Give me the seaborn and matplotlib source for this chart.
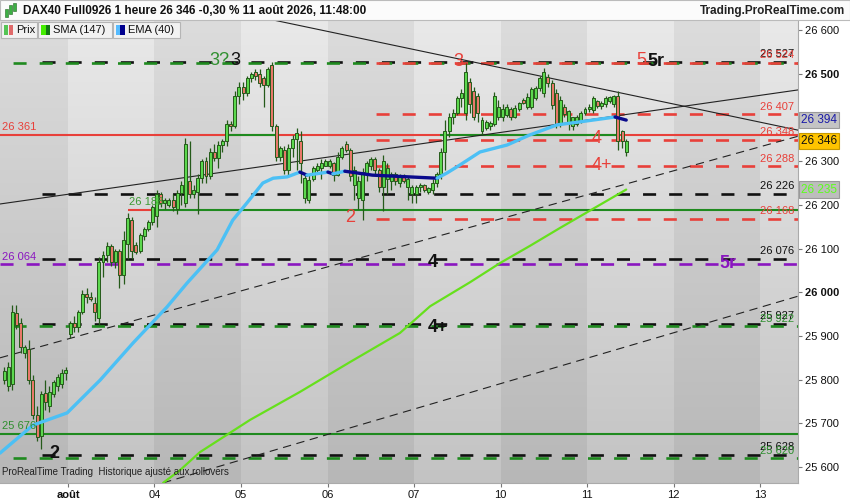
"""
DAX40 Full0926 - 1 heure - ProRealTime style
"""
import numpy as np
import pandas as pd
import matplotlib
matplotlib.use('Agg')
import matplotlib.pyplot as plt
from matplotlib.colors import LinearSegmentedColormap
from matplotlib.patches import Rectangle
import seaborn as sns

sns.set_theme(style='white')
plt.rcParams['font.family'] = ['Liberation Sans', 'DejaVu Sans']
plt.rcParams['lines.scale_dashes'] = False

# ============================================================
# données : bougies 1 heure (première bougie = 31/07, index -16)
# ============================================================
first_bar = -16
bar_open = [
    # 31/07
    25800, 25785, 25790, 25952, 25930, 25860, 25870, 25800, 25720, 25672, 25770, 25740, 25768, 25785, 25790, 25815,
    # 03/08
    25905, 25930, 25920, 25955, 25995, 25990, 25975, 25940, 26070, 26085, 26105, 26070, 26095, 26040, 26110, 26165, 26108, 26095, 26128, 26145, 26160,
    # 04/08
    26175, 26225, 26205, 26200, 26212, 26190, 26228, 26205, 26255, 26225, 26230, 26262, 26300, 26265, 26322, 26308, 26336, 26345, 26386, 26380, 26450,
    # 05/08
    26470, 26455, 26490, 26505, 26500, 26490, 26475, 26520, 26380, 26310, 26325, 26280, 26330, 26350, 26345, 26215, 26212, 26260, 26280, 26285, 26290,
    # 06/08
    26290, 26295, 26268, 26310, 26340, 26325, 26245, 26215, 26210, 26270, 26290, 26305, 26280, 26240, 26260, 26255, 26270, 26250, 26265, 26240, 26225,
    # 07/08
    26225, 26240, 26245, 26230, 26235, 26250, 26270, 26320, 26370, 26400, 26410, 26445, 26410, 26480, 26460, 26450, 26368, 26375, 26380, 26385, 26400,
    # 10/08
    26400, 26405, 26420, 26402, 26420, 26440, 26425, 26425, 26445, 26467, 26455, 26492, 26478, 26455, 26385, 26424, 26385, 26380, 26385, 26392, 26410,
    # 11/08
    26420, 26418, 26438, 26426, 26430, 26438, 26430, 26448, 26370, 26322,
]
bar_high = [
    25830, 25840, 25972, 25970, 25940, 25880, 25890, 25810, 25740, 25775, 25800, 25785, 25800, 25812, 25825, 25830,
    25935, 25945, 25960, 26005, 26010, 26000, 25990, 26080, 26095, 26115, 26110, 26100, 26100, 26140, 26182, 26172, 26115, 26135, 26150, 26165, 26200,
    26235, 26230, 26215, 26215, 26225, 26235, 26255, 26352, 26345, 26245, 26270, 26305, 26310, 26330, 26340, 26345, 26350, 26395, 26392, 26460, 26480,
    26480, 26495, 26505, 26510, 26510, 26495, 26515, 26527, 26385, 26335, 26335, 26340, 26360, 26375, 26370, 26268, 26268, 26290, 26295, 26305, 26305,
    26305, 26298, 26320, 26335, 26345, 26330, 26290, 26265, 26285, 26300, 26310, 26310, 26285, 26315, 26295, 26275, 26275, 26270, 26270, 26265, 26245,
    26245, 26250, 26248, 26242, 26260, 26275, 26330, 26395, 26410, 26420, 26450, 26465, 26525, 26490, 26470, 26455, 26400, 26395, 26392, 26458, 26440,
    26430, 26430, 26425, 26428, 26435, 26445, 26455, 26470, 26472, 26495, 26513, 26500, 26485, 26465, 26448, 26430, 26418, 26402, 26405, 26415, 26425,
    26430, 26448, 26440, 26438, 26448, 26450, 26452, 26460, 26372, 26350,
]
bar_low = [
    25790, 25775, 25776, 25915, 25860, 25850, 25790, 25710, 25660, 25642, 25730, 25725, 25760, 25775, 25780, 25800,
    25895, 25910, 25910, 25950, 25975, 25980, 25935, 25925, 26035, 26070, 26060, 26055, 26010, 26020, 26075, 26075, 26088, 26090, 26120, 26140, 26155,
    26150, 26195, 26190, 26195, 26185, 26180, 26200, 26195, 26215, 26215, 26180, 26250, 26250, 26260, 26300, 26285, 26320, 26335, 26370, 26375, 26430,
    26440, 26450, 26480, 26485, 26470, 26425, 26470, 26370, 26300, 26300, 26270, 26265, 26310, 26280, 26250, 26205, 26205, 26255, 26275, 26260, 26288,
    26285, 26255, 26265, 26305, 26320, 26255, 26210, 26190, 26165, 26255, 26280, 26270, 26230, 26185, 26225, 26235, 26245, 26240, 26250, 26210, 26205,
    26205, 26230, 26230, 26225, 26225, 26240, 26260, 26280, 26355, 26385, 26405, 26425, 26395, 26410, 26395, 26390, 26362, 26372, 26372, 26380, 26395,
    26392, 26400, 26395, 26398, 26415, 26430, 26420, 26420, 26440, 26460, 26447, 26470, 26420, 26376, 26378, 26400, 26372, 26372, 26380, 26388, 26405,
    26412, 26410, 26422, 26420, 26425, 26432, 26425, 26325, 26330, 26312,
]
bar_close = [
    25820, 25830, 25955, 25925, 25875, 25875, 25800, 25720, 25669, 25768, 25748, 25772, 25795, 25806, 25815, 25822,
    25930, 25920, 25955, 25995, 25990, 25985, 25955, 26070, 26085, 26105, 26070, 26095, 26040, 26120, 26170, 26095, 26093, 26130, 26145, 26160, 26195,
    26225, 26205, 26210, 26212, 26195, 26228, 26245, 26340, 26225, 26235, 26262, 26300, 26265, 26322, 26308, 26336, 26345, 26386, 26380, 26450, 26470,
    26455, 26490, 26500, 26495, 26478, 26475, 26510, 26380, 26310, 26330, 26280, 26330, 26350, 26365, 26295, 26262, 26258, 26285, 26290, 26295, 26300,
    26300, 26268, 26310, 26330, 26325, 26265, 26280, 26255, 26275, 26295, 26305, 26280, 26240, 26300, 26285, 26270, 26255, 26265, 26255, 26260, 26240,
    26240, 26245, 26235, 26238, 26250, 26270, 26320, 26370, 26400, 26410, 26445, 26455, 26505, 26430, 26400, 26410, 26395, 26390, 26388, 26450, 26425,
    26420, 26424, 26402, 26422, 26432, 26434, 26447, 26465, 26468, 26490, 26505, 26478, 26428, 26385, 26440, 26408, 26415, 26400, 26402, 26410, 26420,
    26425, 26444, 26426, 26434, 26444, 26446, 26448, 26345, 26345, 26346,
]

# jours (index de la première bougie de chaque jour)
day_labels = ['août', '04', '05', '06', '07', '10', '11', '12', '13']
day_first_bar = [0, 21, 42, 63, 84, 105, 126, 147, 168]

# moyennes mobiles
ema_x = [-16.5, -8.5, -0.2, 7.8, 15.8, 24.0, 28.9, 36.2, 40.0, 43.4, 47.3, 49.8, 53.2, 56.3, 58.0,
         63.1, 64.3, 67.2, 73.9, 89.6, 92.0, 95.1, 100.0, 106.6, 112.1, 118.7, 124.3, 132.8, 135.5]
ema_y = [25632, 25696, 25724, 25799, 25884, 25966, 26021, 26097, 26165, 26204, 26250, 26261, 26264, 26275, 26268,
         26275, 26271, 26277, 26268, 26261, 26273, 26291, 26321, 26337, 26360, 26383, 26390, 26401, 26394]
sma_x = [23.1, 27.2, 32.0, 44.2, 56.3, 68.4, 80.6, 87.9, 97.6, 104.9, 112.1, 119.4, 129.1, 135.5]
sma_y = [25564, 25593, 25634, 25708, 25772, 25840, 25907, 25968, 26023, 26067, 26106, 26147, 26200, 26235]

# niveaux horizontaux
black_levels = [26527, 26226, 26076, 25927, 25628]
green_levels = [26524, 25922, 25620]
red_levels = [26524, 26407, 26348, 26288, 26168]
purple_levels = [26064]

# lignes de tendance (bougie, prix)
trend_solid = [((-16.5, 26202), (177.2, 26463)), ((47.8, 26627), (177.2, 26371))]
trend_dashed = [((-16.5, 25850), (177.2, 26357)), ((23.1, 25564), (177.2, 25991))]

XMIN, XMAX = -16.5, 177.2
YMIN, YMAX = 25563.6, 26623

C_RED = '#e8403a'
C_GREEN = '#1f8a1f'
C_BLACK = '#111111'
C_PURPLE = '#8a16c0'
C_EDGE = '#255a1a'

df = pd.DataFrame({'open': bar_open, 'high': bar_high, 'low': bar_low, 'close': bar_close})
df['x'] = np.arange(len(df)) + first_bar + 0.5
df['up'] = df['close'] >= df['open']

fig = plt.figure(figsize=(8.5, 5), dpi=100, facecolor='white')
ax = fig.add_axes([0, 1 - 483 / 500, 798 / 850, 463 / 500])

# ---- fond : bandes par jour ----
edges = [-17] + day_first_bar + [190]
grad = np.linspace(0, 1, 256).reshape(-1, 1)
cm_light = LinearSegmentedColormap.from_list('l', ['#e9e9e9', '#c3c3c3'])
cm_dark = LinearSegmentedColormap.from_list('d', ['#dcdcdc', '#b7b7b7'])
for k in range(len(edges) - 1):
    cm = cm_dark if k % 2 == 0 else cm_light
    ax.imshow(grad, extent=(edges[k], edges[k + 1], YMIN, YMAX), origin='upper',
              aspect='auto', cmap=cm, zorder=0)

# ---- niveaux ----
ax.hlines(black_levels, -6.3, XMAX, colors=C_BLACK, lw=1.9, linestyles=[(0, (9.4, 9.4))], zorder=2)
ax.hlines(green_levels, XMIN, XMAX, colors=C_GREEN, lw=1.9, linestyles=[(9.4, (9.4, 9.4))], zorder=2)
ax.hlines(purple_levels, XMIN, XMAX, colors=C_PURPLE, lw=1.9, linestyles=[(0, (9.4, 9.4))], zorder=2)
ax.hlines(red_levels, 71.6, XMAX, colors=C_RED, lw=1.9, linestyles=[(9.4, (9.4, 9.4))], zorder=2)

ax.hlines(26361, XMIN, XMAX, colors=C_RED, lw=1.5, zorder=2)
ax.hlines([26361, 26361], [38.8, 90.3], [50.2, 134.0], colors=C_GREEN, lw=1.5, zorder=2)
ax.hlines(26188, 21.8, XMAX, colors=C_GREEN, lw=1.5, zorder=2)
ax.hlines(26188, 14.6, 21.8, colors=C_RED, lw=1.5, zorder=2)
ax.hlines(25676, XMIN, XMAX, colors=C_GREEN, lw=1.5, zorder=2)

for (x0, y0), (x1, y1) in trend_solid:
    ax.plot([x0, x1], [y0, y1], color='#222222', lw=0.8, zorder=3)
for (x0, y0), (x1, y1) in trend_dashed:
    ax.plot([x0, x1], [y0, y1], color='#222222', lw=0.8, ls=(0, (6, 4)), zorder=3)

# ---- bougies ----
ax.vlines(df['x'], df['low'], df['high'], colors=C_EDGE, lw=0.9, zorder=4)
body = (df['close'] - df['open']).abs().clip(lower=2)
bottom = df[['open', 'close']].min(axis=1)
fill = np.where(df['up'], '#5cd84e', '#e8786a')
ax.bar(df['x'], body, bottom=bottom, width=0.72, color=fill, edgecolor=C_EDGE, lw=0.7, zorder=5)

# ---- moyennes mobiles ----
sns.lineplot(x=sma_x, y=sma_y, color='#66e01c', lw=1.6, ax=ax, sort=False, estimator=None, zorder=6)
slope = np.sign(np.diff(ema_y))
start = 0
for k in range(1, len(slope) + 1):
    if k == len(slope) or slope[k] != slope[start]:
        col = '#4cc0f5' if slope[start] >= 0 else '#0a0a8c'
        sns.lineplot(x=ema_x[start:k + 1], y=ema_y[start:k + 1], color=col, lw=2.4,
                     ax=ax, sort=False, estimator=None, zorder=7)
        start = k

# ---- étiquettes de niveaux (droite) ----
right_labels = [('26 527', 26527, C_BLACK), ('26 524', 26524, C_RED), ('26 407', 26407, C_RED),
                ('26 348', 26348, C_RED), ('26 288', 26288, C_RED), ('26 226', 26226, C_BLACK),
                ('26 168', 26168, C_RED), ('26 076', 26076, C_BLACK), ('25 927', 25927, C_BLACK),
                ('25 922', 25922, '#2f8f2f'), ('25 628', 25628, C_BLACK), ('25 620', 25620, '#2f8f2f')]
tr = ax.get_yaxis_transform()
for txt, lev, col in right_labels:
    ax.annotate(txt, (0.995, lev), xycoords=tr, xytext=(0, 2), textcoords='offset points',
                ha='right', va='bottom', fontsize=8, color=col, zorder=9)

left_labels = [('26 361', 26361, C_RED), ('26 064', 26064, C_PURPLE), ('25 676', 25676, '#2f8f2f')]
for txt, lev, col in left_labels:
    ax.annotate(txt, (0.003, lev), xycoords=tr, xytext=(0, 2), textcoords='offset points',
                ha='left', va='bottom', fontsize=8, color=col, zorder=9)
ax.annotate('26 188', (14.8, 26188), xytext=(0, 2), textcoords='offset points',
            ha='left', va='bottom', fontsize=8, color='#3c9a32', zorder=9)

# ---- étiquettes de vagues ----
waves = [('3?', 39.3, 26531, '#2f8f2f', 'normal', 'right'), ('3', 39.3, 26531, C_BLACK, 'normal', 'left'),
         ('3', 94.7, 26527, C_RED, 'normal', 'center'), ('5', 139.1, 26531, C_RED, 'normal', 'center'),
         ('5r', 140.6, 26527, C_BLACK, 'bold', 'left'), ('2', 68.4, 26170, C_RED, 'normal', 'center'),
         ('2', -3.2, 25632, C_BLACK, 'bold', 'center'), ('4', 128.4, 26353, C_RED, 'normal', 'center'),
         ('4+', 129.6, 26289, C_RED, 'normal', 'center'), ('4', 88.6, 26069, C_BLACK, 'bold', 'center'),
         ('4+', 89.8, 25920, C_BLACK, 'bold', 'center'), ('5r', 160.2, 26065, C_PURPLE, 'bold', 'center')]
for txt, xb, yp, col, wt, ha in waves:
    ax.text(xb, yp, txt, color=col, fontsize=13, fontweight=wt, ha=ha, va='center', zorder=9)

ax.text(0.003, 0.012, 'ProRealTime Trading  Historique ajusté aux rollovers', transform=ax.transAxes,
        fontsize=7, color='#222222', ha='left', va='bottom', zorder=9)

# ---- axes ----
ax.set_xlim(XMIN, XMAX)
ax.set_ylim(YMIN, YMAX)
ax.yaxis.tick_right()
yt = np.arange(25600, 26601, 100)
ax.set_yticks(yt)
ax.set_yticklabels([f'{v // 1000} {v % 1000:03d}' for v in yt], fontsize=8, color='#111111')
for lab, v in zip(ax.get_yticklabels(), yt):
    if v in (26000, 26500):
        lab.set_fontweight('bold')
ax.set_xticks(day_first_bar)
ax.set_xticklabels(day_labels, fontsize=8, color='#111111')
ax.get_xticklabels()[0].set_fontweight('bold')
ax.tick_params(axis='both', which='both', length=3, width=0.8, color='#777777', pad=2,
               bottom=True, right=True, left=False)
for s in ['top', 'left']:
    ax.spines[s].set_visible(False)
for s in ['right', 'bottom']:
    ax.spines[s].set_color('#aaaaaa')
    ax.spines[s].set_linewidth(0.8)
ax.grid(False)

# boîtes de prix à droite
price_boxes = [('26 394', 26394, '#1a1aa8', '#c4c4c4', '#9a9a9a'),
               ('26 346', 26346, '#111111', '#ffc400', '#c89a00'),
               ('26 235', 26235, '#5cff1c', '#bdbdbd', '#9a9a9a')]
for txt, lev, tc, fc, ec in price_boxes:
    ax.text(1.004, lev, txt, transform=tr, fontsize=8.5, color=tc, ha='left', va='center',
            bbox=dict(boxstyle='square,pad=0.18', fc=fc, ec=ec, lw=0.8), clip_on=False, zorder=10)

# ---- en-tête ----
def fx(px):
    return px / 850

def fy(py):
    return 1 - py / 500

fig.patches.append(Rectangle((0, fy(20)), 1, 20 / 500, transform=fig.transFigure,
                             fc='#fbfbfb', ec='#bbbbbb', lw=0.8, zorder=0))
for xi, y0, y1, col in [(5, 9, 17, '#3cb043'), (9, 5, 14, '#3cb043'), (13, 3, 11, '#3cb043')]:
    fig.patches.append(Rectangle((fx(xi), fy(y1)), 2.6 / 850, (y1 - y0) / 500,
                                 transform=fig.transFigure, fc=col, ec='#226622', lw=0.4))
fig.text(fx(23), fy(11), 'DAX40 Full0926 1 heure 26 346 -0,30 % 11 août 2026, 11:48:00',
         fontsize=8.5, fontweight='bold', color='#111111', va='center', ha='left')
fig.text(fx(845), fy(11), 'Trading.ProRealTime.com', fontsize=8.5, fontweight='bold',
         color='#222222', va='center', ha='right')

# ---- légende ----
legend_boxes = [('Prix', 1, 37, '#55c455', '#e06a6a'),
                ('SMA (147)', 38, 112, '#44ee00', '#137a13'),
                ('EMA (40)', 113, 180, '#55bbff', '#00008f')]
for txt, x0, x1, c1, c2 in legend_boxes:
    fig.patches.append(Rectangle((fx(x0), fy(38)), (x1 - x0) / 850, 16 / 500, transform=fig.transFigure,
                                 fc='#f2f2f2', ec='#b5b5b5', lw=0.8, zorder=20))
    fig.patches.append(Rectangle((fx(x0 + 3), fy(35)), 4.5 / 850, 10 / 500, transform=fig.transFigure,
                                 fc=c1, ec='none', zorder=21))
    fig.patches.append(Rectangle((fx(x0 + 7.5), fy(35)), 4.5 / 850, 10 / 500, transform=fig.transFigure,
                                 fc=c2, ec='none', zorder=21))
    fig.text(fx(x0 + 15), fy(30), txt, fontsize=8, color='#111111', va='center', ha='left', zorder=22)

plt.savefig('out.png', dpi=100, facecolor='white')
plt.close()
